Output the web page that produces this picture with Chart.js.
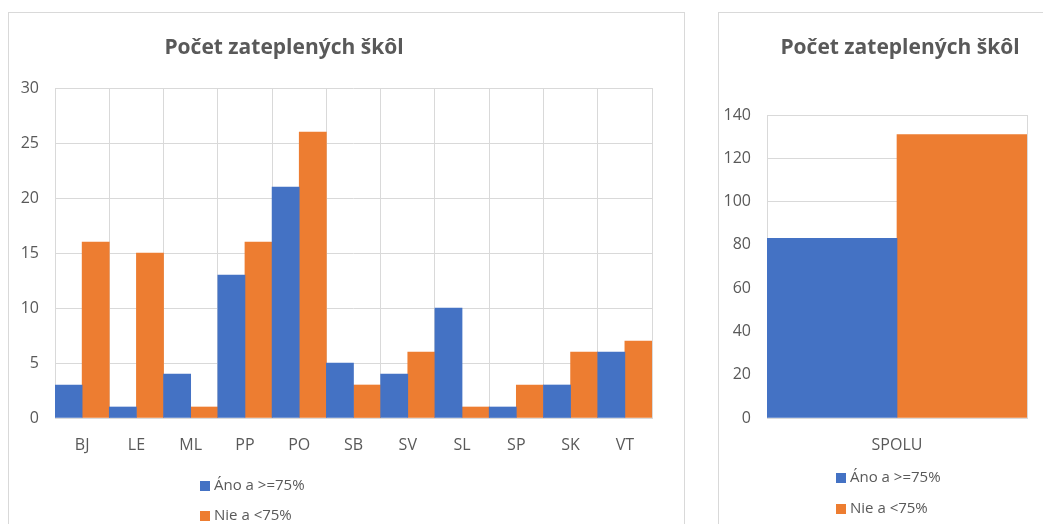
<!DOCTYPE html>
<html>
<head>
<meta charset="utf-8">
<script src="https://cdn.jsdelivr.net/npm/chart.js@4"></script>
<style>
    body { margin: 0; background: #fff; width: 1043px; height: 524px; overflow: hidden; position: relative; }
    .panel { position: absolute; border: 1px solid #d9d9d9; background: #fff; }
    #p1 { left: 8px; top: 12px; width: 675px; height: 520px; }
    #p2 { left: 718px; top: 12px; width: 362px; height: 520px; }
</style>
</head>
<body>
<div class="panel" id="p1"><canvas id="okresy" width="675" height="520"></canvas></div>
<div class="panel" id="p2"><canvas id="spolu" width="362" height="520"></canvas></div>
<script>
const okresy = ["BJ", "LE", "ML", "PP", "PO", "SB", "SV", "SL", "SP", "SK", "VT"];
const anoOkresy = [3, 1, 4, 13, 21, 5, 4, 10, 1, 3, 6];
const nieOkresy = [16, 15, 1, 16, 26, 3, 6, 1, 3, 6, 7];

const spoluLabels = ["SPOLU"];
const anoSpolu = [83];
const nieSpolu = [131];

const seriesNames = ["Áno a >=75%", "Nie a <75%"];
const titleText = "Počet zateplených škôl";

const BLUE = "#4472C4";
const ORANGE = "#ED7D31";
const TEXT = "#595959";
const GRID = "#d9d9d9";
const FONT = "'Open Sans', sans-serif";

Chart.defaults.font.family = FONT;
Chart.defaults.font.size = 16;
Chart.defaults.color = TEXT;

// excel style title + vertical legend drawn at fixed spots
const excelDecor = {
    id: "excelDecor",
    afterDraw(chart, args, opts) {
        const ctx = chart.ctx;
        ctx.save();
        ctx.fillStyle = TEXT;
        ctx.font = "bold 21px " + FONT;
        ctx.textAlign = "center";
        ctx.textBaseline = "middle";
        ctx.fillText(opts.title, opts.titleX, opts.titleY);

        ctx.font = "15px " + FONT;
        ctx.textAlign = "left";
        chart.data.datasets.forEach((ds, i) => {
            const y = opts.legendY + i * opts.legendGap;
            ctx.fillStyle = ds.backgroundColor;
            ctx.fillRect(opts.legendX, y - 5, 10, 10);
            ctx.fillStyle = TEXT;
            ctx.fillText(ds.label, opts.legendX + 14, y);
        });
        ctx.restore();
    }
};

function makeChart(id, labels, ano, nie, yMax, yStep, yWidth, padding, decor) {
    return new Chart(document.getElementById(id), {
        type: "bar",
        data: {
            labels: labels,
            datasets: [
                { label: seriesNames[0], data: ano, backgroundColor: BLUE },
                { label: seriesNames[1], data: nie, backgroundColor: ORANGE }
            ]
        },
        options: {
            responsive: false,
            animation: false,
            layout: { padding: padding },
            datasets: { bar: { categoryPercentage: 1, barPercentage: 1, borderWidth: 0 } },
            scales: {
                x: {
                    grid: { color: GRID, drawTicks: false, offset: true },
                    border: { color: GRID },
                    ticks: { padding: 18 },
                    afterFit(scale) { scale.height = 40; }
                },
                y: {
                    min: 0,
                    max: yMax,
                    grid: { color: GRID, drawTicks: false },
                    border: { display: false },
                    ticks: { stepSize: yStep, padding: 16 },
                    afterFit(scale) { scale.width = yWidth; }
                }
            },
            plugins: {
                legend: { display: false },
                title: { display: false },
                tooltip: { enabled: false },
                excelDecor: decor
            }
        },
        plugins: [excelDecor]
    });
}

makeChart("okresy", okresy, anoOkresy, nieOkresy, 30, 5, 46,
    { top: 75, right: 32, bottom: 75, left: 0 },
    { title: titleText, titleX: 275, titleY: 35, legendX: 191, legendY: 473, legendGap: 30 });

makeChart("spolu", spoluLabels, anoSpolu, nieSpolu, 140, 20, 48,
    { top: 102, right: 54, bottom: 75, left: 0 },
    { title: titleText, titleX: 181, titleY: 35, legendX: 117, legendY: 465, legendGap: 31 });
</script>
</body>
</html>
